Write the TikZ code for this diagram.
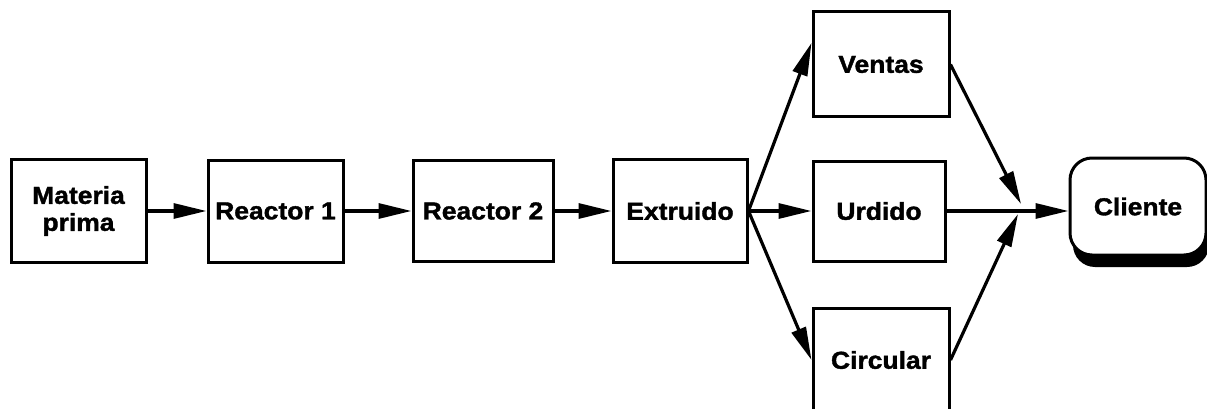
\documentclass[tikz,border=0pt]{standalone}
\usepackage{fontspec}
\usetikzlibrary{arrows.meta,calc,shadows}
\newfontfamily\boxfont{Liberation Sans}[FakeStretch=1.08,FakeBold=1.5]
\begin{document}
\begin{tikzpicture}[x=1pt,y=-1pt,
  box/.style={draw, line width=3pt, fill=white, inner sep=0pt, align=center,
    font=\boxfont\bfseries\fontsize{24.5}{27}\selectfont},
  flow/.style={line width=3.2pt, -{Triangle[length=33pt,width=15pt]}}]
\useasboundingbox (0,0) rectangle (1207,409);
\clip (0,0) rectangle (1207,409);
\node[box, minimum width=135pt, minimum height=103pt] (mp) at (78.5,211) {Materia\\prima};
\node[box, minimum width=135pt, minimum height=102pt] (r1) at (275.5,211) {Reactor 1};
\node[box, minimum width=140pt, minimum height=101pt] (r2) at (483,211) {Reactor 2};
\node[box, minimum width=134pt, minimum height=103pt] (ex) at (680,211) {Extruido};
\node[box, minimum width=136pt, minimum height=105pt] (ve) at (881,64.5) {Ventas};
\node[box, minimum width=132pt, minimum height=100pt] (ur) at (879,211) {Urdido};
\node[box, minimum width=136pt, minimum height=103pt] (ci) at (881,360) {Circular};
\node[box, rounded corners=22pt, minimum width=136pt, minimum height=97pt,
  drop shadow={shadow xshift=3pt, shadow yshift=-12pt, fill=black, opacity=1}] (cl) at (1138,206.5) {Cliente};
\coordinate (j1) at (1021,204);
\coordinate (j2) at (1018,214);
\draw[flow] (mp.east) -- (r1.west);
\draw[flow] (r1.east) -- (r2.west);
\draw[flow] (r2.east) -- (ex.west);
\draw[flow] (ex.east) -- ($(ve.north west)!0.3!(ve.south west)$);
\draw[flow] (ex.east) -- (ur.west);
\draw[flow] (ex.east) -- (ci.west);
\draw[flow] (ve.east) -- (j1);
\draw[flow] (ci.east) -- (j2);
\draw[flow] (ur.east) -- (ur.east -| cl.west);
\end{tikzpicture}
\end{document}
